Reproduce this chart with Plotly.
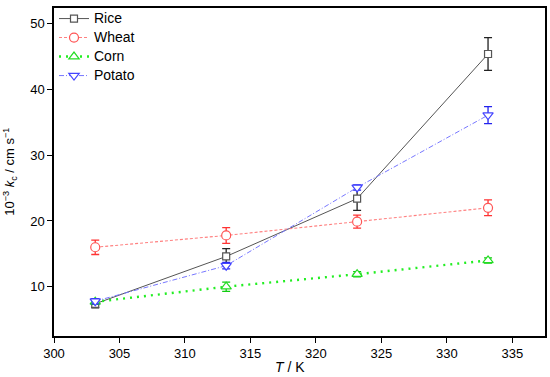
import plotly.graph_objects as go

T = [303.15, 313.15, 323.15, 333.15]
rice = [7.4, 14.6, 23.4, 45.4]
rice_err = [0.6, 1.2, 1.8, 2.5]
wheat = [16.0, 17.8, 19.9, 22.0]
wheat_err = [1.1, 1.2, 1.0, 1.2]
corn = [7.7, 10.0, 11.9, 14.0]
corn_err = [0.4, 0.7, 0.4, 0.4]
potato = [7.8, 13.2, 25.1, 36.1]
potato_err = [0.4, 0.5, 0.4, 1.3]
names = ["Rice", "Wheat", "Corn", "Potato"]

font = "Liberation Sans, Arial, sans-serif"

fig = go.Figure()

def add(name, y, err, line_color, marker_color, err_color, dash, width, symbol, msize):
    fig.add_trace(go.Scatter(
        x=T, y=y, name='<span style="font-size:14px">' + name + '</span>',
        mode="lines+markers",
        line=dict(color=line_color, width=width, dash=dash),
        marker=dict(symbol=symbol, size=msize, color="white",
                    line=dict(color=marker_color, width=1.2)),
        error_y=dict(type="data", array=err, visible=True,
                     color=err_color, thickness=1.3, width=4),
    ))

add(names[0], rice, rice_err, "#555555", "#555555", "#222222", "solid", 1.0, "square", 7)
add(names[1], wheat, wheat_err, "#ff8080", "#ff5555", "#ff3333", "3px,2px", 1.1, "circle", 9)
add(names[2], corn, corn_err, "#22ee22", "#22dd22", "#11cc11", "2px,5px", 2.4, "triangle-up", 9)
add(names[3], potato, potato_err, "#7777ff", "#4444ff", "#2222ee", "5px,2px,1px,2px", 1.0, "triangle-down", 9)

fig.update_layout(
    width=550, height=377,
    margin=dict(l=54, r=5, t=4, b=41),
    paper_bgcolor="white", plot_bgcolor="white",
    font=dict(family=font, size=13, color="black"),
    showlegend=True,
    legend=dict(x=0.0, y=1.012, xanchor="left", yanchor="top",
                bgcolor="rgba(0,0,0,0)", font=dict(size=11),
                tracegroupgap=0),
    annotations=[
        dict(text="<i>T</i> / K", xref="paper", yref="paper", x=0.48, y=-0.093,
             xanchor="center", yanchor="middle", showarrow=False,
             font=dict(size=14)),
        dict(text="10<sup>−3</sup> <i>k</i><sub>c</sub> / cm s<sup>−1</sup>",
             xref="paper", yref="paper", x=-0.09, y=0.5, textangle=-90,
             xanchor="center", yanchor="middle", showarrow=False,
             font=dict(size=13)),
    ],
)
fig.update_xaxes(
    range=[300, 337.5], tickvals=[300, 305, 310, 315, 320, 325, 330, 335],
    showgrid=False, zeroline=False, showline=True, linecolor="black",
    linewidth=1.5, mirror=True, ticks="outside", ticklen=5,
    tickcolor="black", tickfont=dict(size=13), automargin=False,
)
fig.update_yaxes(
    range=[2.5, 52.4], tickvals=[10, 20, 30, 40, 50],
    showgrid=False, zeroline=False, showline=True, linecolor="black",
    linewidth=1.5, mirror=True, ticks="outside", ticklen=5,
    tickcolor="black", tickfont=dict(size=13), automargin=False,
)

fig.write_html("out.html", config={"displayModeBar": False},
               post_script="document.body.style.margin='0px';")
